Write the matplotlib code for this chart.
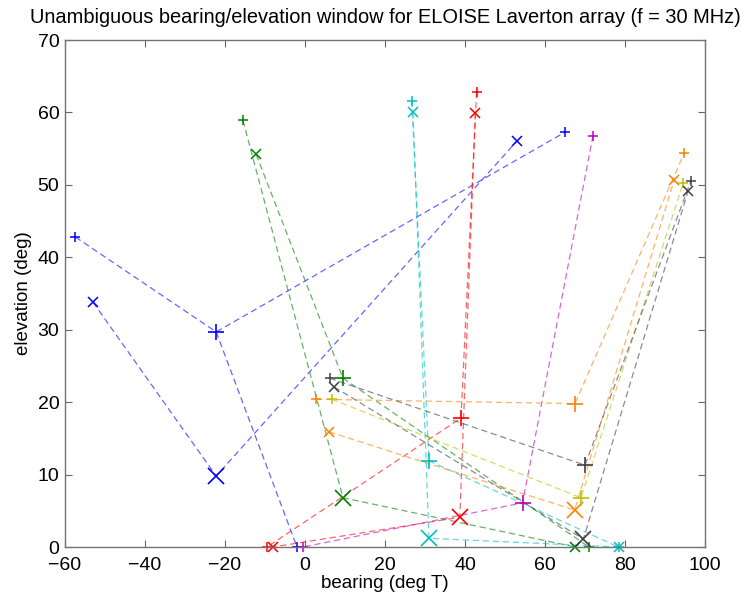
import matplotlib
matplotlib.use('Agg')
import matplotlib.pyplot as plt

plt.rcParams['font.family'] = ['Liberation Sans', 'DejaVu Sans']

# colours (MATLAB-ish)
colours = {
    'blue': (0, 0, 1),
    'green': (0, 0.5, 0),
    'red': (1, 0, 0),
    'cyan': (0, 0.75, 0.75),
    'magenta': (0.75, 0, 0.75),
    'orange': (1, 0.5, 0),
    'yellow': (0.75, 0.75, 0),
    'black': (0.25, 0.25, 0.25),
}

# dashed paths: (colour, bearing list, elevation list)
paths = [
    ('blue', [-57.4, -22.2, 65.1], [42.8, 29.7, 57.3]),
    ('blue', [-53.0, -22.2, 52.9], [33.8, 9.8, 56.0]),
    ('blue', [-22.2, -2.0], [29.7, 0.0]),
    ('green', [-15.5, 9.5, 67.6], [58.9, 6.8, 0.0]),
    ('green', [-12.2, 9.5, 71.0], [54.2, 23.3, 0.0]),
    ('red', [42.9, 39.0, -9.5], [62.8, 17.8, 0.0]),
    ('red', [42.6, 38.7, -8.0], [59.9, 4.1, 0.0]),
    ('cyan', [26.7, 31.0, 78.4], [61.6, 11.9, 0.0]),
    ('cyan', [27.0, 31.0, 78.4], [60.0, 1.2, 0.0]),
    ('magenta', [72.0, 54.4, -0.5], [56.8, 6.1, 0.0]),
    ('orange', [2.7, 67.5, 94.8], [20.4, 19.8, 54.4]),
    ('orange', [6.0, 67.4, 92.3], [15.9, 5.1, 50.7]),
    ('yellow', [6.7, 69.0, 94.6], [20.4, 6.8, 50.3]),
    ('black', [6.2, 70.0, 96.5], [23.3, 11.3, 50.6]),
    ('black', [7.3, 69.6, 95.8], [22.1, 1.1, 49.2]),
]

# small end markers: (colour, marker, bearing, elevation)
small_pts = [
    ('blue', '+', -57.4, 42.8), ('blue', 'x', -53.0, 33.8),
    ('blue', '+', 65.1, 57.3), ('blue', 'x', 52.9, 56.0), ('blue', '+', -2.0, 0.0),
    ('green', '+', -15.5, 58.9), ('green', 'x', -12.2, 54.2),
    ('green', 'x', 67.6, 0.0), ('green', '+', 71.0, 0.0),
    ('red', '+', 42.9, 62.8), ('red', 'x', 42.6, 59.9),
    ('red', '+', -9.5, 0.0), ('red', 'x', -8.0, 0.0),
    ('cyan', '+', 26.7, 61.6), ('cyan', 'x', 27.0, 60.0),
    ('cyan', '+', 78.4, 0.0), ('cyan', 'x', 78.4, 0.0),
    ('magenta', '+', 72.0, 56.8), ('magenta', '+', -0.5, 0.0),
    ('orange', '+', 2.7, 20.4), ('orange', 'x', 6.0, 15.9),
    ('orange', '+', 94.8, 54.4), ('orange', 'x', 92.3, 50.7),
    ('yellow', '+', 6.7, 20.4), ('yellow', '+', 94.6, 50.3),
    ('black', '+', 6.2, 23.3), ('black', 'x', 7.3, 22.1),
    ('black', '+', 96.5, 50.6), ('black', 'x', 95.8, 49.2),
]

# big markers
big_pts = [
    ('blue', '+', -22.2, 29.7), ('blue', 'x', -22.2, 9.8),
    ('green', '+', 9.5, 23.3), ('green', 'x', 9.5, 6.8),
    ('red', '+', 39.0, 17.8), ('red', 'x', 38.7, 4.1),
    ('cyan', '+', 31.0, 11.9), ('cyan', 'x', 31.0, 1.2),
    ('magenta', '+', 54.4, 6.1),
    ('orange', '+', 67.5, 19.8), ('orange', 'x', 67.4, 5.1),
    ('yellow', '+', 69.0, 6.8),
    ('black', '+', 70.0, 11.3), ('black', 'x', 69.6, 1.1),
]

fig = plt.figure(figsize=(7.41, 5.99), dpi=100)
ax = fig.add_axes([0.0877, 0.0868, 0.8637, 0.8464])

for c, xs, ys in paths:
    ax.plot(xs, ys, '--', color=colours[c], lw=0.9, alpha=0.6,
            dashes=(5, 3), clip_on=False)

for c, m, x, y in small_pts:
    ax.plot(x, y, m, color=colours[c], ms=6.5, mew=1.1, clip_on=False)

for c, m, x, y in big_pts:
    ax.plot(x, y, m, color=colours[c], ms=11, mew=1.2, clip_on=False)

ax.set_xlim(-60, 100)
ax.set_ylim(0, 70)
ax.set_xticks(range(-60, 101, 20))
ax.set_yticks(range(0, 71, 10))
ax.tick_params(direction='in', length=5, top=True, right=True,
               labelsize=14, color='0.4')
ax.tick_params(axis='x', pad=7)
ax.tick_params(axis='y', pad=4)
for s in ax.spines.values():
    s.set_color('0.45')
    s.set_linewidth(1.0)

ax.set_xlabel('bearing (deg T)', fontsize=13.5, labelpad=1)
ax.set_ylabel('elevation (deg)', fontsize=13.5, labelpad=4)
ax.set_title('Unambiguous bearing/elevation window for ELOISE Laverton array (f = 30 MHz)',
             fontsize=14.4, pad=12)

fig.savefig('out.png', dpi=100)
